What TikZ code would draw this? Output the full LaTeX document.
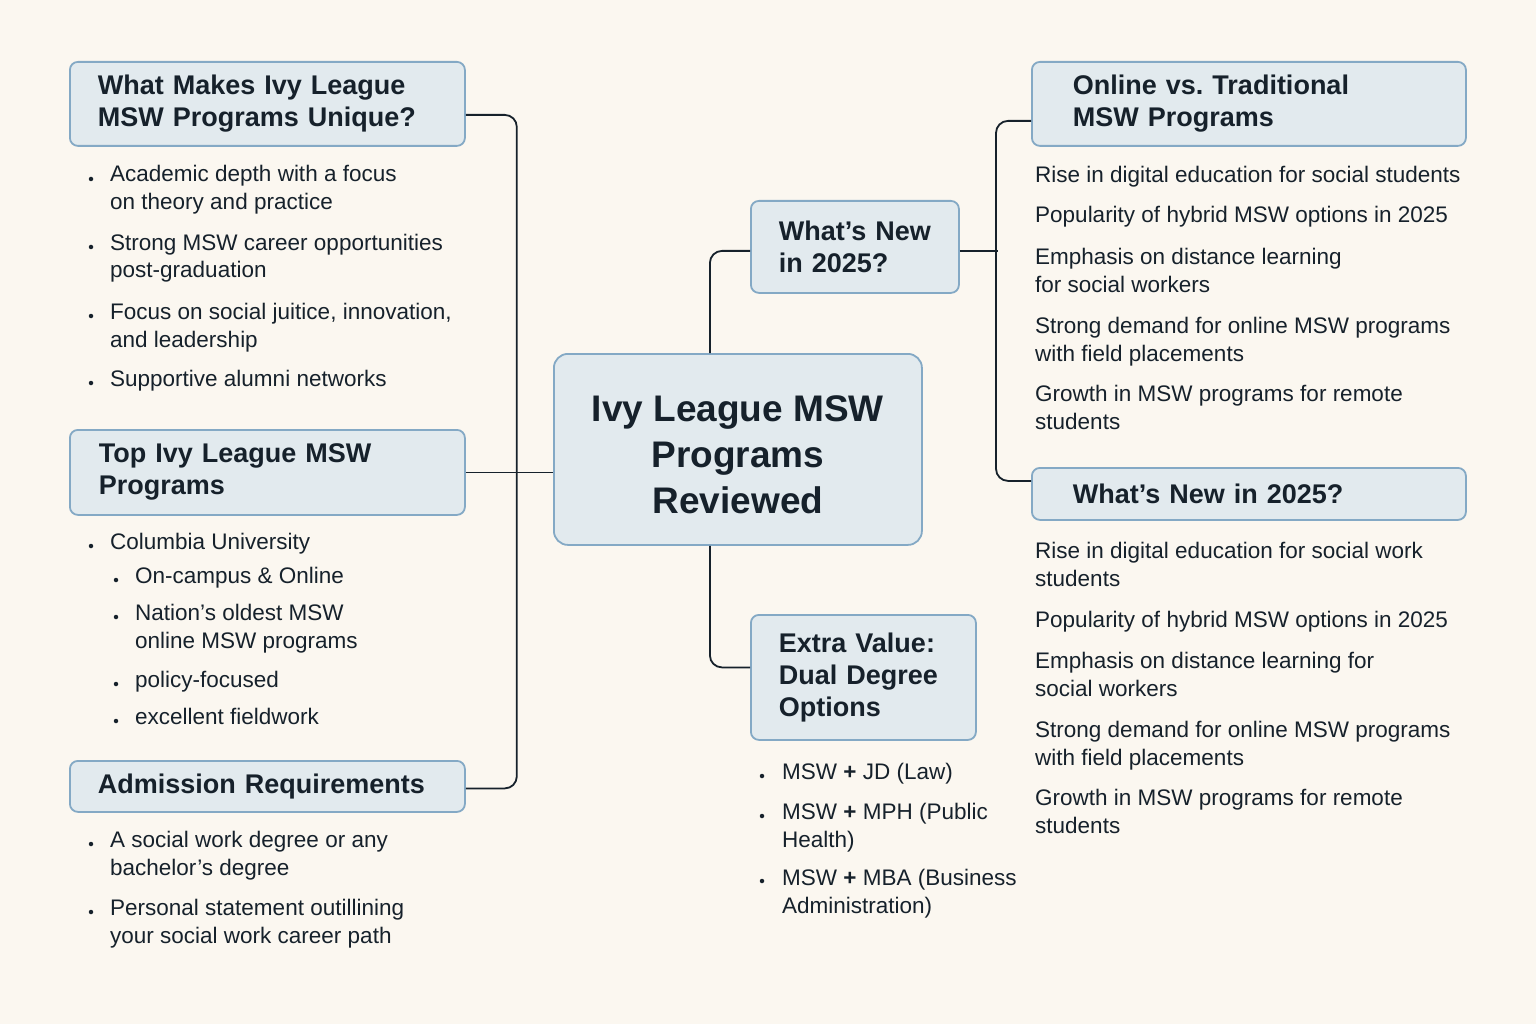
\documentclass[tikz,border=0pt]{standalone}
\usepackage{fontspec}
\setmainfont{Liberation Sans}
\usetikzlibrary{calc}
\definecolor{bg}{HTML}{FBF7F0}
\definecolor{boxfill}{HTML}{E2EAEE}
\definecolor{boxline}{HTML}{84A9C5}
\definecolor{ink}{HTML}{16212B}
\begin{document}
\begin{tikzpicture}[x=1pt,y=-1pt,
  hbox/.style={draw=boxline, fill=boxfill, line width=1.8pt, rounded corners=8pt, anchor=north west, align=left, text=ink, font=\bfseries\fontsize{27}{32}\selectfont, inner ysep=0pt},
  cbox/.style={draw=boxline, fill=boxfill, line width=1.8pt, rounded corners=14pt, anchor=north west, align=center, text=ink, font=\bfseries\fontsize{37}{46}\selectfont, inner sep=0pt},
  item/.style={anchor=base west, align=left, text=ink, font=\fontsize{22.5}{28}\selectfont, inner sep=0pt},
  conn/.style={draw=ink, line width=1.8pt, rounded corners=12pt},
  dot/.style={circle, fill=ink, inner sep=0pt, minimum size=4.5pt}
]
\fill[bg] (0,0) rectangle (1536,1024);
\useasboundingbox (0,0) rectangle (1536,1024);

% ---------- boxes ----------
\node[hbox, minimum width=395pt, minimum height=84pt, text width=339pt, inner xsep=28pt] (b1) at (69,61) {What Makes Ivy League\\MSW Programs Unique?};
\node[hbox, minimum width=395pt, minimum height=85pt, text width=337pt, inner xsep=29pt] (b2) at (69,429) {Top Ivy League MSW\\Programs};
\node[hbox, minimum width=395pt, minimum height=51pt, text width=339pt, inner xsep=28pt] (b3) at (69,760) {Admission Requirements};
\node[cbox, minimum width=368pt, minimum height=191pt] (c) at (553,353) {\rule{0pt}{36pt}Ivy League MSW\\Programs\\Reviewed};
\node[hbox, minimum width=208pt, minimum height=92pt, text width=184pt, inner xsep=12pt] (w1) at (750,200) {\hspace*{16pt}What’s New\\\hspace*{16pt}in 2025?};
\node[hbox, minimum width=225pt, minimum height=125pt, text width=169pt, inner xsep=28pt] (e) at (750,614) {Extra Value:\\Dual Degree\\Options};
\node[hbox, minimum width=434pt, minimum height=84pt, text width=352pt, inner xsep=41pt] (o) at (1031,61) {Online vs.\ Traditional\\MSW Programs};
\node[hbox, minimum width=434pt, minimum height=52pt, text width=352pt, inner xsep=41pt] (n) at (1031,467) {What’s New in 2025?};

% ---------- connectors ----------
\draw[conn] ([yshift=-11pt]b1.east) -- ++(51,0) |- ([yshift=-2pt]b3.east);
\draw[conn] (b2.east) -- (b2.east -| c.west);
\draw[conn] ([xshift=-28pt]c.north) |- ([yshift=-4pt]w1.west);
\draw[conn] ([xshift=-28pt]c.south) |- ([yshift=10pt]e.west);
\draw[conn] ([yshift=-4pt]w1.east) -- ++(38,0);
\draw[conn] ([yshift=-17pt]o.west) -| ([xshift=-35pt,yshift=13pt]n.west) -- ([yshift=13pt]n.west);

% ---------- left: unique ----------
\node[dot] (da1) at (91,179) {};
\node[item] (a1) at (110,210) {Academic depth with a focus\\on theory and practice};
\node[dot] (da2) at (91,247) {};
\node[item] (a2) at (110,278) {Strong MSW career opportunities\\post-graduation};
\node[dot] (da3) at (91,316) {};
\node[item] (a3) at (110,347) {Focus on social juitice, innovation,\\and leadership};
\node[dot] (da4) at (91,383) {};
\node[item] (a4) at (110,386) {Supportive alumni networks};

% ---------- left: top programs ----------
\node[dot] (dp1) at (91,546) {};
\node[item] (p1) at (110,549) {Columbia University};
\node[dot] (dp2) at (116,580) {};
\node[item] (p2) at (135,583) {On-campus \& Online};
\node[dot] (dp3) at (116,617) {};
\node[item] (p3) at (135,648) {Nation’s oldest MSW\\online MSW programs};
\node[dot] (dp4) at (116,684) {};
\node[item] (p4) at (135,687) {policy-focused};
\node[dot] (dp5) at (116,721) {};
\node[item] (p5) at (135,724) {excellent fieldwork};

% ---------- left: admission ----------
\node[dot] (dr1) at (91,844) {};
\node[item] (r1) at (110,875) {A social work degree or any\\bachelor’s degree};
\node[dot] (dr2) at (91,912) {};
\node[item] (r2) at (110,943) {Personal statement outillining\\your social work career path};

% ---------- right: online vs traditional ----------
\node[item] (t1) at (1035,183) {Rise in digital education for social students};
\node[item] (t2) at (1035,223) {Popularity of hybrid MSW options in 2025};
\node[item] (t3) at (1035,292) {Emphasis on distance learning\\for social workers};
\node[item] (t4) at (1035,361) {Strong demand for online MSW programs\\with field placements};
\node[item] (t5) at (1035,429) {Growth in MSW programs for remote\\students};

% ---------- right: what's new ----------
\node[item] (s1) at (1035,586) {Rise in digital education for social work\\students};
\node[item] (s2) at (1035,627) {Popularity of hybrid MSW options in 2025};
\node[item] (s3) at (1035,696) {Emphasis on distance learning for\\social workers};
\node[item] (s4) at (1035,765) {Strong demand for online MSW programs\\with field placements};
\node[item] (s5) at (1035,833) {Growth in MSW programs for remote\\students};

% ---------- dual degree ----------
\node[dot] (dd1) at (762,776) {};
\node[item] (d1) at (782,779) {MSW \textbf{+} JD (Law)};
\node[dot] (dd2) at (762,816) {};
\node[item] (d2) at (782,847) {MSW \textbf{+} MPH (Public\\Health)};
\node[dot] (dd3) at (762,881) {};
\node[item] (d3) at (782,913) {MSW \textbf{+} MBA (Business\\Administration)};
\end{tikzpicture}
\end{document}
